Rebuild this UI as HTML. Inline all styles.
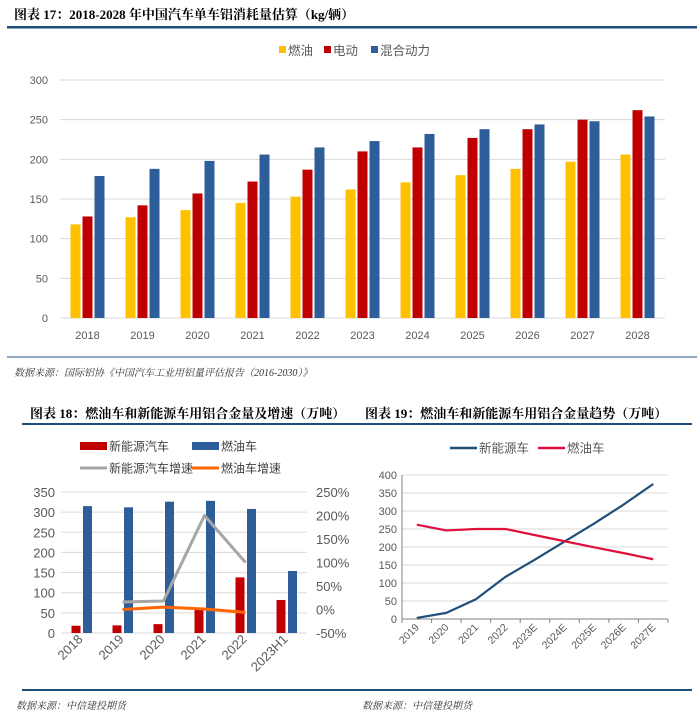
<!DOCTYPE html>
<html><head><meta charset="utf-8">
<style>
body{margin:0;background:#fff;width:700px;height:719px;overflow:hidden}
svg{display:block;font-family:"Liberation Sans","Noto Sans CJK SC",sans-serif}
.t{font-family:"Liberation Serif","Noto Serif CJK SC",serif;font-weight:bold;font-size:13px;fill:#000}
.src{font-family:"Liberation Serif","Noto Serif CJK SC",serif;font-style:italic;font-size:10px;fill:#333}
</style></head>
<body>
<svg id="s" width="700" height="719">
<text class="t" x="14" y="19">图表 17：2018-2028 年中国汽车单车铝消耗量估算（kg/辆）</text>
<rect x="7" y="26" width="690" height="2.5" fill="#1f4e79"/>
<line x1="7" y1="357" x2="697" y2="357" stroke="#1f4e79" stroke-width="1"/>
<text class="src" x="14" y="376">数据来源：国际铝协《中国汽车工业用铝量评估报告（2016-2030）》</text>

<text class="t" x="30" y="418">图表 18：燃油车和新能源车用铝合金量及增速（万吨）</text>
<rect x="22" y="423" width="328" height="2" fill="#1f4e79"/>
<rect x="22" y="689" width="328" height="2" fill="#1f4e79"/>
<text class="src" x="16" y="709">数据来源：中信建投期货</text>

<text class="t" x="365" y="418">图表 19：燃油车和新能源车用铝合金量趋势（万吨）</text>
<rect x="350" y="423" width="342" height="2" fill="#1f4e79"/>
<rect x="350" y="689" width="342" height="2" fill="#1f4e79"/>
<text class="src" x="362" y="709">数据来源：中信建投期货</text>
<g id="c1"></g><g id="c2"></g><g id="c3"></g>
</svg>
<script>
// Chart 1 data
const years1 = ["2018","2019","2020","2021","2022","2023","2024","2025","2026","2027","2028"];
const fuel1 = [118,127,136,145,153,162,171,180,188,197,206];
const ev1 = [128,142,157,172,187,210,215,227,238,250,262];
const hybrid1 = [179,188,198,206,215,223,232,238,244,248,254];
const ticks1 = [0,50,100,150,200,250,300];
// Chart 2 data
const years2 = ["2018","2019","2020","2021","2022","2023H1"];
const nev2 = [18,19,22,60,138,82];
const fuel2 = [315,312,326,328,308,154];
const nevGrowth2 = [null,16,18,200,100,null];
const fuelGrowth2 = [null,0,5,1,-6,null];
const ticksL2 = [0,50,100,150,200,250,300,350];
const ticksR2 = [-50,0,50,100,150,200,250];
// Chart 3 data
const years3 = ["2019","2020","2021","2022","2023E","2024E","2025E","2026E","2027E"];
const nev3 = [3,17,55,117,165,215,265,318,375];
const fuel3 = [262,246,250,250,233,216,199,183,166];
const ticks3 = [0,50,100,150,200,250,300,350,400];

const NS="http://www.w3.org/2000/svg";
function mk(p,tag,a,txt){const e=document.createElementNS(NS,tag);for(const k in a)e.setAttribute(k,a[k]);if(txt!=null)e.textContent=txt;p.appendChild(e);return e;}

// ---- Chart 1
(function(){
const g=document.getElementById('c1');
const x0=60,x1=665,yTop=80,yBot=318,max=300;
const y=v=>yBot-(v/max)*(yBot-yTop);
const step=(x1-x0)/years1.length;
const cx=i=>x0+step*(i+0.5);
ticks1.forEach(t=>{
 const l=mk(g,'line',{x1:x0,x2:x1,y1:y(t),y2:y(t),stroke:'#d9d9d9','stroke-width':1});
 
 
 const tx=mk(g,'text',{x:48,y:y(t)+4,'text-anchor':'end','font-size':11,fill:'#595959'},t);
 
 
});
const series=[[fuel1,'#ffc000',-12],[ev1,'#c00000',0],[hybrid1,'#2e5e99',12]];
const names=['fuel','ev','hybrid'];
series.forEach((s,si)=>{
 s[0].forEach((v,i)=>{
  const r=mk(g,'rect',{x:cx(i)+s[2]-5,y:y(v),width:10,height:yBot-y(v),fill:s[1]});
  
  
 });
});
years1.forEach((yr,i)=>{
 const t=mk(g,'text',{x:cx(i),y:339,'text-anchor':'middle','font-size':11,fill:'#595959'},yr);
 
 
});
const leg=[['燃油','#ffc000',279],['电动','#c00000',324],['混合动力','#2e5e99',371]];
leg.forEach((l,i)=>{
 const r=mk(g,'rect',{x:l[2],y:46,width:7,height:7,fill:l[1]});
 
 
 const t=mk(g,'text',{x:l[2]+9,y:55,'font-size':12.5,fill:'#595959'},l[0]);
 
 
});
})();

// ---- Chart 2
(function(){
const g=document.getElementById('c2');
const x0=61,x1=307,yTop=492,yBot=633;
const y=v=>yBot-(v/350)*(yBot-yTop);
const yr=v=>yBot-((v+50)/300)*(yBot-yTop);
const step=(x1-x0)/years2.length;
const cx=i=>x0+step*(i+0.5);
ticksL2.forEach(t=>{
 const l=mk(g,'line',{x1:x0,x2:x1,y1:y(t),y2:y(t),stroke:'#d9d9d9','stroke-width':1});
 
 
 const tx=mk(g,'text',{x:55,y:y(t)+5,'text-anchor':'end','font-size':13,fill:'#595959'},t);
 
 
});
ticksR2.forEach(t=>{
 const tx=mk(g,'text',{x:316,y:yr(t)+5,'font-size':13,fill:'#595959'},t+'%');
 
 
});
nev2.forEach((v,i)=>{
 const r=mk(g,'rect',{x:cx(i)-10,y:y(v),width:9,height:yBot-y(v),fill:'#c00000'});
 
 
});
fuel2.forEach((v,i)=>{
 const r=mk(g,'rect',{x:cx(i)+1.5,y:y(v),width:9,height:yBot-y(v),fill:'#2e5e99'});
 
 
});
function line(arr,col,name){
 const pts=[];arr.forEach((v,i)=>{if(v!=null)pts.push(cx(i)+','+yr(v));});
 const p=mk(g,'polyline',{points:pts.join(' '),fill:'none',stroke:col,'stroke-width':3,'stroke-linejoin':'round'});
 
 
}
line(nevGrowth2,'#a6a6a6','line-nev-growth');
line(fuelGrowth2,'#ff6600','line-fuel-growth');
years2.forEach((yy,i)=>{
 const t=mk(g,'text',{x:cx(i)+2,y:640,'text-anchor':'end','font-size':13,fill:'#595959',transform:`rotate(-45 ${cx(i)+2} 640)`},yy);
 
 
});
const L=[['rect','#c00000',80,446,'新能源汽车','nev'],['rect','#2e5e99',192,446,'燃油车','fuel'],['line','#a6a6a6',80,468,'新能源汽车增速','nev-growth'],['line','#ff6600',192,468,'燃油车增速','fuel-growth']];
L.forEach(l=>{
 let s;
 if(l[0]=='rect') s=mk(g,'rect',{x:l[2],y:l[3]-4,width:27,height:8,fill:l[1]});
 else s=mk(g,'line',{x1:l[2],x2:l[2]+27,y1:l[3],y2:l[3],stroke:l[1],'stroke-width':3});
 
 
 const t=mk(g,'text',{x:l[2]+29,y:l[3]+4.5,'font-size':12,fill:'#404040'},l[4]);
 
 
});
})();

// ---- Chart 3
(function(){
const g=document.getElementById('c3');
const x0=402,x1=668,yTop=475,yBot=619;
const y=v=>yBot-(v/400)*(yBot-yTop);
const step=(x1-x0)/years3.length;
const cx=i=>x0+step*(i+0.5);
ticks3.forEach(t=>{
 if(t>0){const l=mk(g,'line',{x1:x0,x2:x1,y1:y(t),y2:y(t),stroke:'#d9d9d9','stroke-width':1});
 
 }
 const tx=mk(g,'text',{x:397,y:y(t)+4,'text-anchor':'end','font-size':11,fill:'#595959'},t);
 
 
});
const ax=mk(g,'path',{d:`M${x0} ${yTop} V${yBot} H${x1}`,fill:'none',stroke:'#808080','stroke-width':1});


for(let i=0;i<=years3.length;i++){
 const tk=mk(g,'line',{x1:x0+step*i,x2:x0+step*i,y1:yBot,y2:yBot+4,stroke:'#808080'});
 
 
}
function line(arr,col,name){
 const p=mk(g,'polyline',{points:arr.map((v,i)=>cx(i)+','+y(v)).join(' '),fill:'none',stroke:col,'stroke-width':2.2,'stroke-linejoin':'round'});
 
 
}
line(nev3,'#1f4e79','line-nev');
line(fuel3,'#e0103c','line-fuel');
years3.forEach((yy,i)=>{
 const t=mk(g,'text',{x:cx(i)+3,y:628,'text-anchor':'end','font-size':10.5,fill:'#595959',transform:`rotate(-45 ${cx(i)+3} 628)`},yy);
 
 
});
[['#1f4e79',450,'新能源车','nev'],['#e0103c',538,'燃油车','fuel']].forEach(l=>{
 const s=mk(g,'line',{x1:l[1],x2:l[1]+27,y1:448,y2:448,stroke:l[0],'stroke-width':2.5});
 
 
 const t=mk(g,'text',{x:l[1]+29,y:452.5,'font-size':12.5,fill:'#595959'},l[2]);
 
 
});
})();
</script>
</body></html>
